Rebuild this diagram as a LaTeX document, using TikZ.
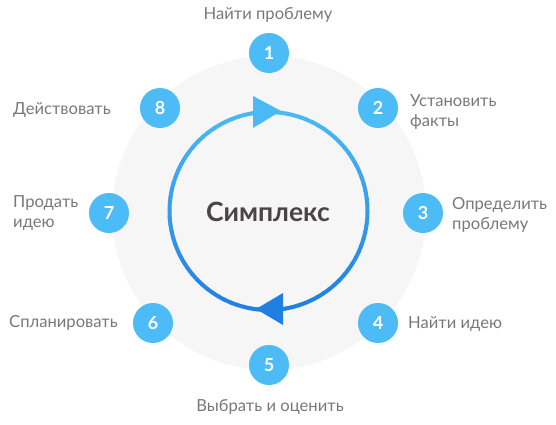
\documentclass[tikz,border=0pt]{standalone}
\usepackage{fontspec}
\setmainfont{Lato}
\usepackage{tikz}

\definecolor{bgcircle}{HTML}{F6F6F6}
\definecolor{numblue}{HTML}{4DBBF6}
\definecolor{ringtop}{HTML}{4BB9F4}
\definecolor{ringbot}{HTML}{1F7FE3}
\definecolor{labelgrey}{HTML}{7A7777}
\definecolor{titlegrey}{HTML}{4A4446}

\tikzset{
  numdot/.style={circle, fill=numblue, minimum size=40pt, inner sep=0pt,
    text=white, font=\fontsize{18}{18}\selectfont\bfseries},
  steplabel/.style={text=labelgrey, font=\fontsize{16.6}{20}\selectfont,
    align=left, inner sep=0pt},
}

\begin{document}
\begin{tikzpicture}[x=1pt,y=-1pt]
\useasboundingbox (0,0) rectangle (556,424);

% Background disc
\fill[bgcircle] (269,213) circle (157);

% Ring, shaded from top to bottom in short arcs
\foreach \a in {0,4,...,356} {
    \pgfmathsetmacro\p{max(0,min(100,50-50*sin(\a+2)))}
    \draw[line width=4pt, ringtop!\p!ringbot] (268.5,211) ++(\a:99)
        arc[start angle=\a, end angle=\a+4.6, radius=99];
}

% Arrowheads on the ring
\fill[ringtop] (253,96) -- (281,111) -- (253,128) -- cycle;
\fill[ringbot] (283,293) -- (256,309) -- (283,325) -- cycle;

% Title
\node[font=\fontsize{26.5}{26}\selectfont\bfseries, text=titlegrey] (title) at (268,212) {Симплекс};

% Step numbers
\foreach \n/\x/\y in {1/269/53, 2/378/108, 3/423/213, 4/378/323,
                      5/269/365, 6/153/323, 7/109/213, 8/160/108}
    \node[numdot] (n\n) at (\x,\y) {\n};

% Step labels
\node[steplabel] (l1) at (268,15) {Найти проблему};
\node[steplabel, anchor=west] (l2) at (410,112) {Установить\\факты};
\node[steplabel, anchor=west] (l3) at (452,215) {Определить\\проблему};
\node[steplabel, anchor=west] (l4) at (408,324) {Найти идею};
\node[steplabel] (l5) at (270,407) {Выбрать и оценить};
\node[steplabel, anchor=east] (l6) at (118,323) {Спланировать};
\node[steplabel, anchor=west] (l7) at (13,213) {Продать\\идею};
\node[steplabel, anchor=west] (l8) at (13,110) {Действовать};
\end{tikzpicture}
\end{document}
